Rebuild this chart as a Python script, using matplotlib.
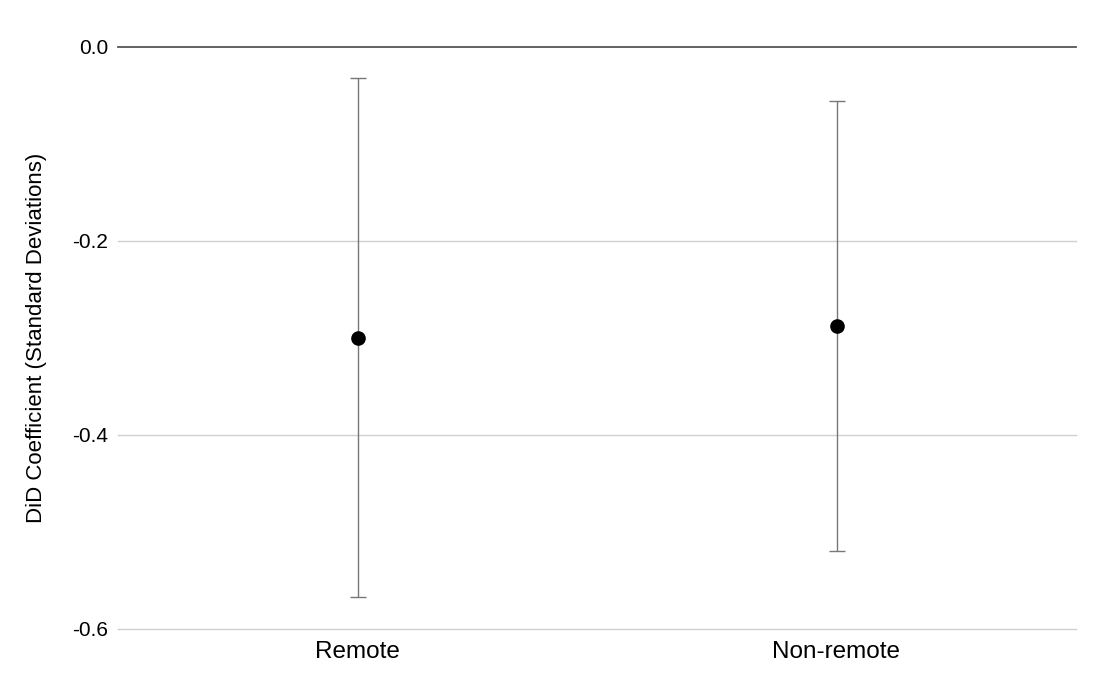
import matplotlib.pyplot as plt
import numpy as np

groups = ["Remote", "Non-remote"]
coef = [-0.300, -0.288]
ci_low = [-0.567, -0.520]
ci_high = [-0.0325, -0.056]
yticks = [0.0, -0.2, -0.4, -0.6]

plt.rcParams['font.family'] = ['Liberation Sans', 'DejaVu Sans']

fig = plt.figure(figsize=(11.05, 6.97), dpi=100)
ax = fig.add_axes([118/1105, 1-629/697, (1076-118)/1105, (629-46.5)/697])

x = np.arange(len(groups))
coef = np.array(coef)
err = np.array([coef - np.array(ci_low), np.array(ci_high) - coef])
ax.errorbar(x, coef, yerr=err, fmt='o', color='black', markersize=9.5,
            ecolor='#777777', elinewidth=1.0, capsize=6, capthick=1.0, zorder=3)

ax.set_xlim(-0.5, 1.5)
ax.set_ylim(-0.6, 0.0)
ax.set_yticks(yticks)
ax.set_yticklabels([f"{v:.1f}" for v in yticks])
for v in yticks:
    if v == 0:
        ax.axhline(v, color='#555555', lw=1.3, zorder=2, clip_on=False)
    else:
        ax.axhline(v, color='#d0d0d0', lw=1.0, zorder=1, clip_on=False)

ax.set_xticks(x)
ax.set_xticklabels(groups)
for s in ax.spines.values():
    s.set_visible(False)
ax.tick_params(axis='y', length=0, labelsize=15, colors='black', pad=7)
ax.tick_params(axis='x', length=0, labelsize=17.5, colors='black', pad=9)
ax.set_ylabel("DiD Coefficient (Standard Deviations)", fontsize=16, labelpad=18)

fig.savefig("out.png", dpi=100)
